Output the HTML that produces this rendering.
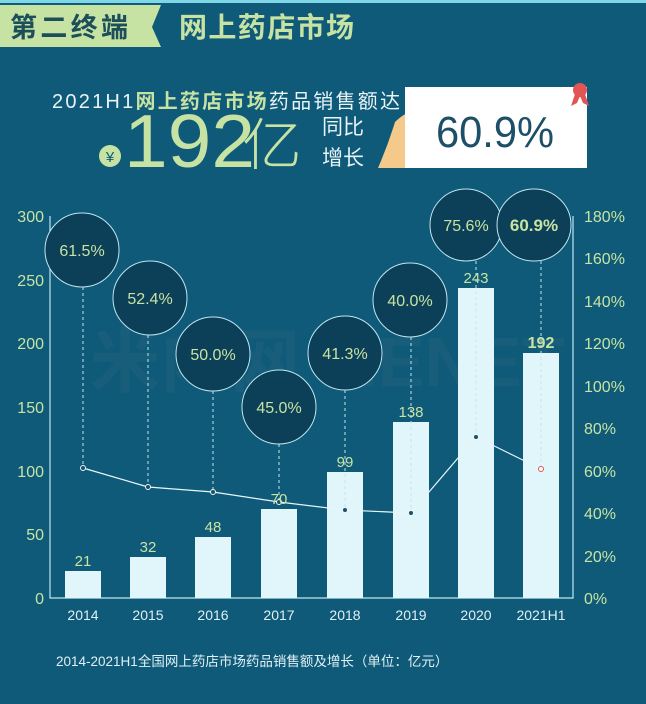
<!DOCTYPE html><html><head><meta charset="utf-8"><style>
body{margin:0;width:646px;height:704px;overflow:hidden;background:#0f5a78;font-family:"Liberation Sans","Noto Sans CJK SC",sans-serif;}
.a{position:absolute}
</style></head><body>
<div class="a" style="left:0;top:0;width:646px;height:3px;background:#7fd6e6"></div>
<svg class="a" style="left:0;top:0" width="646" height="704">
<polygon points="0,5 161,5 152,27 161,47 0,47" fill="#c7e3a4"/>
<text x="10" y="37" font-size="27" font-weight="bold" fill="#1d4f5a" font-family="Noto Sans CJK SC" textLength="118">第二终端</text>
<text x="179" y="37" font-size="28" font-weight="bold" fill="#c7e3a4" font-family="Noto Sans CJK SC" textLength="175">网上药店市场</text>
<text x="52" y="108" font-size="20" fill="#e8f4f6" textLength="348">2021H1<tspan font-weight="bold" fill="#c7e3a4">网上药店市场</tspan>药品销售额达</text>
<circle cx="110" cy="156" r="11" fill="#c7e3a4"/><text x="110" y="162" font-size="15" text-anchor="middle" fill="#0f5a78">¥</text>
<text x="124" y="167" font-size="75" fill="#c7e3a4" font-family="Liberation Sans" textLength="131" lengthAdjust="spacingAndGlyphs">192</text>
<text x="242" y="165" font-size="56" fill="#c7e3a4" font-family="Noto Sans CJK SC" font-weight="300" textLength="60" lengthAdjust="spacingAndGlyphs">亿</text>
<text x="322" y="134" font-size="21" fill="#e8f4f6">同比</text>
<text x="322" y="165" font-size="21" fill="#e8f4f6">增长</text>
<path d="M395,122 Q410,108 414,115 L414,168 L378,168 Q388,145 395,122Z" fill="#f4c98a"/>
<rect x="405" y="87" width="182" height="81" fill="#fff"/>
<circle cx="580" cy="90" r="7" fill="#e25555"/><path d="M575,94 L571,106 L577,103 L580,96Z M585,94 L589,106 L583,103 L580,96Z" fill="#e25555"/>
<text x="495" y="147" font-size="44" text-anchor="middle" fill="#1d4f68" textLength="118" lengthAdjust="spacingAndGlyphs">60.9%</text>
<text x="90" y="386" font-size="70" font-weight="bold" fill="#2d6a80" opacity="0.3">米内网 MENET</text>
<g stroke="#bfe6ef" stroke-width="1.2" fill="none"><path d="M50,216 V598 H573 V216"/></g>
<g font-size="16" fill="#c7e3a4" text-anchor="end">
<text x="44" y="222">300</text><text x="44" y="286">250</text><text x="44" y="349">200</text><text x="44" y="413">150</text><text x="44" y="477">100</text><text x="44" y="540">50</text><text x="44" y="604">0</text></g>
<g font-size="16" fill="#c7e3a4">
<text x="584" y="222">180%</text><text x="584" y="264">160%</text><text x="584" y="307">140%</text><text x="584" y="349">120%</text><text x="584" y="392">100%</text><text x="584" y="434">80%</text><text x="584" y="477">60%</text><text x="584" y="519">40%</text><text x="584" y="562">20%</text><text x="584" y="604">0%</text></g>
<g fill="#e0f6fa">
<rect x="65" y="571" width="36" height="27"/><rect x="130" y="557" width="36" height="41"/><rect x="195" y="537" width="36" height="61"/><rect x="261" y="509" width="36" height="89"/><rect x="327" y="472" width="36" height="126"/><rect x="393" y="422" width="36" height="176"/><rect x="458" y="288" width="36" height="310"/><rect x="523" y="353" width="36" height="245"/></g>
<g font-size="14" fill="#e0f0f4" text-anchor="middle">
<text x="83" y="620">2014</text><text x="148" y="620">2015</text><text x="213" y="620">2016</text><text x="279" y="620">2017</text><text x="345" y="620">2018</text><text x="411" y="620">2019</text><text x="476" y="620">2020</text><text x="541" y="620">2021H1</text></g>
<g stroke="#bfe6ef" stroke-width="1" stroke-dasharray="3,3">
<path d="M83,287V468 M148,335V487 M213,391V492 M279,444V502 M345,390V510 M411,337V513 M476,261V437 M541,261V469"/></g>
<polyline points="83,468 148,487 213,492 279,502 345,510 411,513 476,437 541,469" fill="none" stroke="#e8f6fa" stroke-width="1.2"/>
<g fill="#1d4f68" stroke="#e8f6fa"><circle cx="83" cy="468" r="2.5"/><circle cx="148" cy="487" r="2.5"/><circle cx="213" cy="492" r="2.5"/><circle cx="279" cy="502" r="2.5"/><circle cx="345" cy="510" r="2.5"/><circle cx="411" cy="513" r="2.5"/><circle cx="476" cy="437" r="2.5"/></g>
<circle cx="541" cy="469" r="2.5" fill="#fff" stroke="#e25555"/>
<g fill="#0c3f58" stroke="#bfe6ef" stroke-width="1">
<ellipse cx="82" cy="250" rx="37" ry="37"/><ellipse cx="150" cy="298" rx="37" ry="37"/><ellipse cx="213" cy="354" rx="37" ry="37"/><ellipse cx="279" cy="407" rx="37" ry="37"/><ellipse cx="345" cy="353" rx="37" ry="37"/><ellipse cx="410" cy="300" rx="37" ry="37"/><ellipse cx="466" cy="225" rx="36" ry="36"/><ellipse cx="534" cy="225" rx="37" ry="36"/></g>
<g font-size="15" fill="#c7e3a4" text-anchor="middle">
<text x="83" y="566">21</text><text x="148" y="552">32</text><text x="213" y="532">48</text><text x="279" y="504">70</text><text x="345" y="467">99</text><text x="411" y="417">138</text><text x="476" y="283">243</text><text x="541" y="348" font-weight="bold" font-size="16">192</text></g>
<g font-size="16" fill="#c7e3a4" text-anchor="middle">
<text x="82" y="256">61.5%</text><text x="150" y="304">52.4%</text><text x="213" y="360">50.0%</text><text x="279" y="413">45.0%</text><text x="345" y="359">41.3%</text><text x="410" y="306">40.0%</text><text x="466" y="231">75.6%</text><text x="534" y="231" font-weight="bold" font-size="17">60.9%</text></g>
<text x="56" y="666" font-size="13.5" fill="#e0f0f4">2014-2021H1全国网上药店市场药品销售额及增长（单位：亿元）</text>
</svg>
</body></html>
